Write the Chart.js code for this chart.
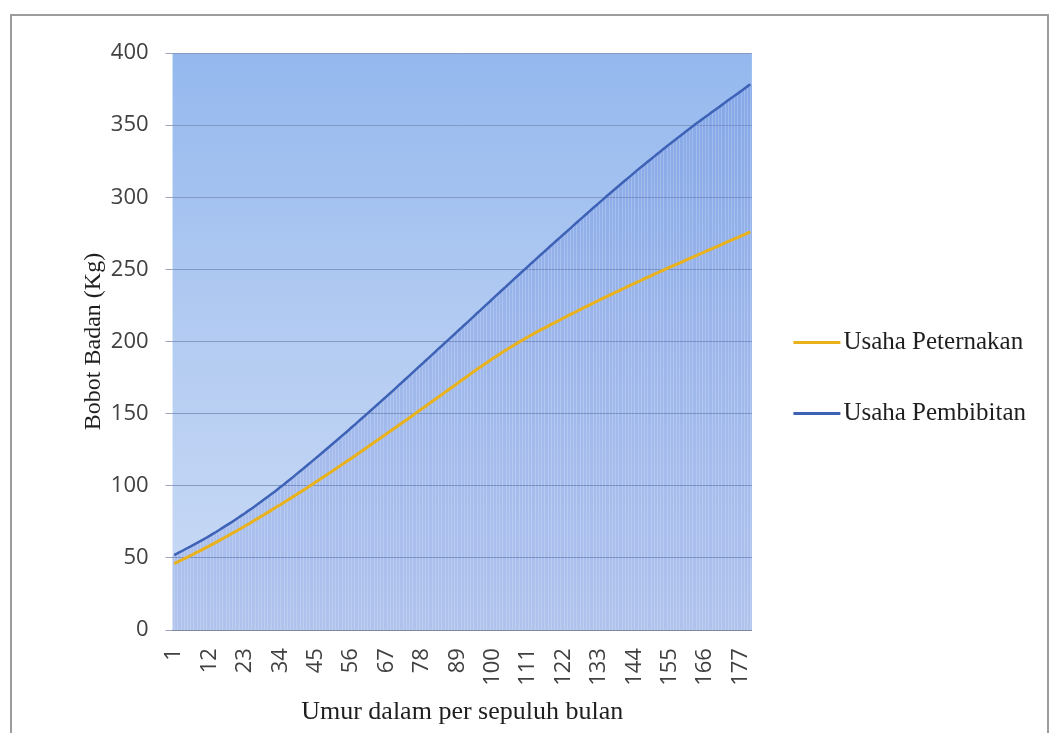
<!DOCTYPE html>
<html>
<head>
<meta charset="utf-8">
<script src="https://cdn.jsdelivr.net/npm/chart.js@4.4.0/dist/chart.umd.min.js"></script>
<style>
  html, body { margin: 0; padding: 0; background: #fff; }
  #wrap { position: relative; width: 1059px; height: 733px; overflow: hidden; }
  #frame { position: absolute; left: 10px; top: 14px; width: 1035px; height: 760px; border: 2px solid #9c9c9c; pointer-events: none; }
</style>
</head>
<body>
<div id="wrap">
  <canvas id="chart" width="1059" height="733"></canvas>
  <div id="frame"></div>
</div>
<script>
// umur (per sepuluh bulan), 1..180
const ageLabels = [
  1,2,3,4,5,6,7,8,9,10,11,12,13,14,15,16,17,18,19,20,
  21,22,23,24,25,26,27,28,29,30,31,32,33,34,35,36,37,38,39,40,
  41,42,43,44,45,46,47,48,49,50,51,52,53,54,55,56,57,58,59,60,
  61,62,63,64,65,66,67,68,69,70,71,72,73,74,75,76,77,78,79,80,
  81,82,83,84,85,86,87,88,89,90,91,92,93,94,95,96,97,98,99,100,
  101,102,103,104,105,106,107,108,109,110,111,112,113,114,115,116,117,118,119,120,
  121,122,123,124,125,126,127,128,129,130,131,132,133,134,135,136,137,138,139,140,
  141,142,143,144,145,146,147,148,149,150,151,152,153,154,155,156,157,158,159,160,
  161,162,163,164,165,166,167,168,169,170,171,172,173,174,175,176,177,178,179,180
];

// labels shown on the x axis
const shownTicks = [1, 12, 23, 34, 45, 56, 67, 78, 89, 100, 111, 122, 133, 144, 155, 166, 177];

// Usaha Peternakan (kg)
const peternakan = [
  46.0,47.1,48.2,49.3,50.4,51.5,52.6,53.8,54.9,56.1,
  57.3,58.4,59.6,60.8,62.0,63.3,64.5,65.7,67.0,68.2,
  69.5,70.8,72.1,73.4,74.7,76.1,77.4,78.7,80.1,81.4,
  82.8,84.2,85.6,86.9,88.3,89.7,91.1,92.5,93.9,95.4,
  96.8,98.2,99.7,101.1,102.6,104.0,105.5,107.0,108.5,110.0,
  111.5,113.0,114.5,116.0,117.5,119.0,120.5,122.1,123.6,125.2,
  126.7,128.3,129.8,131.4,132.9,134.5,136.1,137.6,139.2,140.7,
  142.3,143.9,145.4,147.0,148.6,150.2,151.8,153.4,155.0,156.6,
  158.2,159.8,161.4,163.0,164.6,166.2,167.8,169.4,171.0,172.6,
  174.2,175.8,177.4,179.0,180.6,182.1,183.7,185.2,186.7,188.2,
  189.7,191.1,192.6,194.0,195.4,196.7,198.1,199.4,200.7,202.0,
  203.3,204.5,205.8,207.0,208.2,209.3,210.5,211.7,212.8,214.0,
  215.1,216.3,217.4,218.6,219.7,220.8,222.0,223.1,224.2,225.3,
  226.4,227.5,228.6,229.7,230.8,231.8,232.9,234.0,235.0,236.1,
  237.1,238.2,239.2,240.3,241.3,242.3,243.4,244.4,245.4,246.5,
  247.5,248.5,249.5,250.5,251.5,252.5,253.5,254.4,255.4,256.4,
  257.4,258.4,259.4,260.4,261.3,262.3,263.3,264.3,265.3,266.2,
  267.2,268.2,269.2,270.1,271.1,272.1,273.1,274.0,275.0,276.0
];

// Usaha Pembibitan (kg)
const pembibitan = [
  52.0,53.2,54.3,55.5,56.7,57.9,59.1,60.3,61.5,62.7,
  64.0,65.3,66.7,68.0,69.4,70.8,72.2,73.6,75.0,76.5,
  78.0,79.5,81.0,82.6,84.1,85.7,87.3,89.0,90.6,92.3,
  93.9,95.6,97.3,99.1,100.8,102.6,104.4,106.2,108.1,109.9,
  111.7,113.6,115.4,117.3,119.2,121.0,122.9,124.8,126.7,128.6,
  130.5,132.4,134.4,136.3,138.2,140.2,142.1,144.1,146.1,148.0,
  150.0,152.0,154.0,156.0,158.0,160.0,162.0,164.0,166.0,168.0,
  170.1,172.1,174.2,176.2,178.3,180.3,182.4,184.4,186.5,188.5,
  190.6,192.6,194.7,196.7,198.8,200.8,202.9,204.9,207.0,209.0,
  211.1,213.1,215.2,217.3,219.4,221.4,223.5,225.6,227.6,229.7,
  231.8,233.8,235.9,237.9,240.0,242.0,244.1,246.1,248.2,250.2,
  252.2,254.3,256.3,258.3,260.3,262.3,264.3,266.4,268.4,270.4,
  272.4,274.4,276.3,278.3,280.3,282.3,284.3,286.2,288.2,290.2,
  292.2,294.1,296.1,298.0,300.0,301.9,303.8,305.7,307.6,309.5,
  311.4,313.3,315.2,317.1,319.0,320.8,322.6,324.4,326.2,328.0,
  329.8,331.6,333.4,335.2,337.0,338.7,340.4,342.2,343.9,345.6,
  347.3,349.0,350.8,352.4,354.0,355.6,357.2,358.9,360.5,362.1,
  363.7,365.3,367.0,368.6,370.2,371.8,373.4,375.1,376.7,378.3
];

const LEGEND_BOX = 69;   // room before the legend text
const SAMPLE_LEN = 47;   // length of the legend line sample

// background gradient + shaded area with light vertical lines under the blue curve
const plotBackground = {
  id: 'plotBackground',
  beforeDraw(chart) {
    const { ctx, chartArea: a } = chart;
    const g = ctx.createLinearGradient(0, a.top, 0, a.bottom);
    g.addColorStop(0, '#94b8ee');
    g.addColorStop(0.5, '#b4ccf2');
    g.addColorStop(1, '#cbdbf5');
    ctx.save();
    ctx.fillStyle = g;
    ctx.fillRect(a.left, a.top, a.width, a.height);
    ctx.restore();
  },
  beforeDatasetsDraw(chart) {
    const { ctx, chartArea: a } = chart;
    const x = chart.scales.x;
    const pts = chart.getDatasetMeta(1).data;
    ctx.save();
    ctx.beginPath();
    ctx.moveTo(a.left, a.bottom);
    ctx.lineTo(a.left, pts[0].y);
    pts.forEach(p => ctx.lineTo(p.x, p.y));
    ctx.lineTo(a.right, pts[pts.length - 1].y);
    ctx.lineTo(a.right, a.bottom);
    ctx.closePath();
    ctx.fillStyle = 'rgba(40,80,200,0.17)';
    ctx.fill();
    ctx.clip();
    ctx.strokeStyle = 'rgba(255,255,255,0.2)';
    ctx.lineWidth = 1;
    for (let i = 0; i < ageLabels.length; i++) {
      const px = Math.round(x.getPixelForValue(i)) + 0.5;
      ctx.beginPath();
      ctx.moveTo(px, a.top);
      ctx.lineTo(px, a.bottom);
      ctx.stroke();
    }
    ctx.restore();
  },
  // line samples next to the legend texts
  afterDraw(chart) {
    const legend = chart.legend;
    if (!legend || !legend.legendHitBoxes) return;
    const ctx = chart.ctx;
    const half = legend.options.labels.font.size / 2;
    ctx.save();
    legend.legendHitBoxes.forEach((hb, i) => {
      const y = Math.round(hb.top + hb.height / 2) + 0.5;
      const end = hb.left + LEGEND_BOX + half - 3;
      ctx.strokeStyle = chart.data.datasets[i].borderColor;
      ctx.lineWidth = 3;
      ctx.beginPath();
      ctx.moveTo(end - SAMPLE_LEN, y);
      ctx.lineTo(end, y);
      ctx.stroke();
    });
    ctx.restore();
  }
};

const ctx = document.getElementById('chart').getContext('2d');
const chart = new Chart(ctx, {
  type: 'line',
  data: {
    labels: ageLabels,
    datasets: [{
      label: 'Usaha Peternakan',
      data: peternakan,
      borderColor: '#e9b21c',
      backgroundColor: '#e9b21c',
      borderWidth: 3,
      pointRadius: 0,
      fill: false,
      tension: 0
    }, {
      label: 'Usaha Pembibitan',
      data: pembibitan,
      borderColor: '#3d62b6',
      backgroundColor: '#3d62b6',
      borderWidth: 2.5,
      pointRadius: 0,
      fill: false,
      tension: 0
    }]
  },
  options: {
    responsive: false,
    animation: false,
    devicePixelRatio: 1,
    layout: { padding: { top: 22, right: 23, bottom: 0, left: 20 } },
    plugins: {
      title: {
        display: true,
        text: '',
        fullSize: false,
        font: { size: 10, lineHeight: 1 },
        padding: { top: 0, bottom: 21 }
      },
      tooltip: { enabled: false },
      legend: {
        position: 'right',
        maxWidth: 400,
        labels: {
          boxWidth: LEGEND_BOX,
          boxHeight: 61,
          padding: 10,
          color: '#1e1e1e',
          font: { family: 'Liberation Serif', size: 25 },
          generateLabels(chart) {
            return Chart.defaults.plugins.legend.labels.generateLabels(chart)
              .map(l => Object.assign(l, { fillStyle: 'rgba(0,0,0,0)', strokeStyle: 'rgba(0,0,0,0)', lineWidth: 0 }));
          }
        }
      }
    },
    scales: {
      x: {
        offset: true,
        grid: { display: false, drawTicks: false },
        border: { display: true, color: '#7f8aa0', width: 1 },
        ticks: {
          autoSkip: false,
          maxRotation: 90,
          minRotation: 90,
          padding: 18,
          color: '#404040',
          font: { family: 'Open Sans', size: 22 },
          callback(value, index) {
            const v = ageLabels[index];
            return shownTicks.includes(v) ? String(v) : '';
          }
        },
        title: {
          display: true,
          text: 'Umur dalam per sepuluh bulan',
          color: '#1e1e1e',
          font: { family: 'Liberation Serif', size: 26 },
          padding: { top: -7, bottom: 5 }
        }
      },
      y: {
        min: 0,
        max: 400,
        ticks: {
          stepSize: 50,
          padding: 17,
          color: '#404040',
          font: { family: 'Open Sans', size: 22 }
        },
        grid: { color: '#8499c4', lineWidth: 1, drawTicks: true, tickLength: 7, tickColor: '#9aa6bf' },
        border: { display: false },
        title: {
          display: true,
          text: 'Bobot Badan (Kg)',
          color: '#1e1e1e',
          font: { family: 'Liberation Serif', size: 24 },
          padding: { top: 59, bottom: -14 }
        }
      }
    }
  },
  plugins: [plotBackground]
});
</script>
</body>
</html>
